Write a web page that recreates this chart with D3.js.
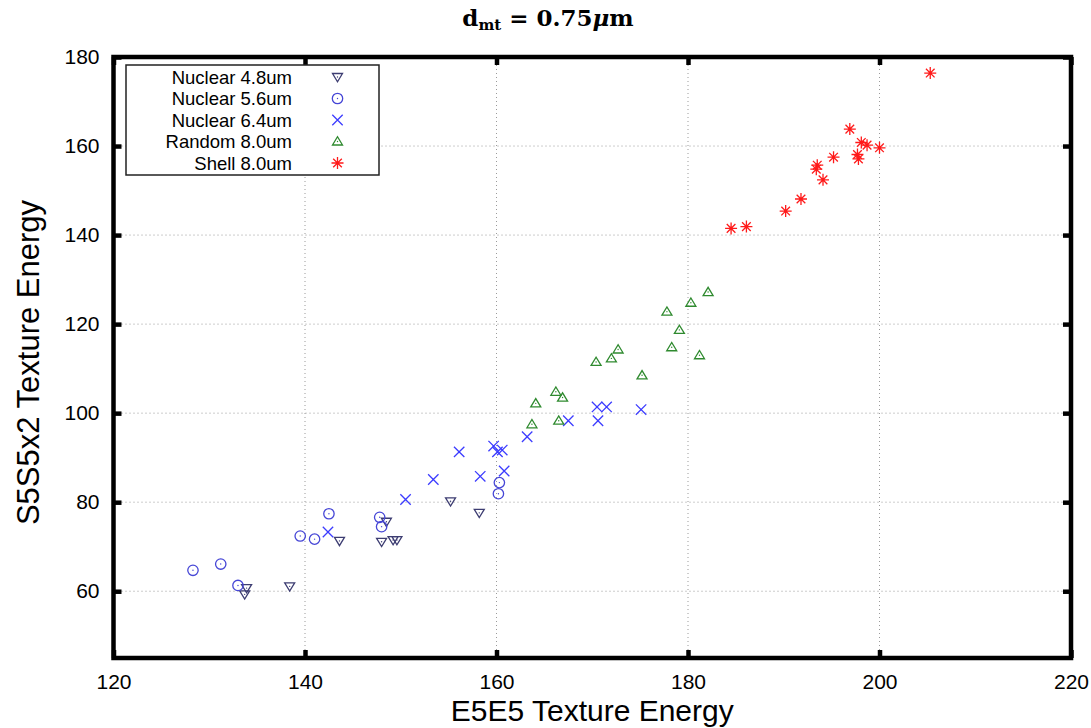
<!DOCTYPE html>
<html>
<head>
<meta charset="utf-8">
<script src="https://cdn.jsdelivr.net/npm/d3@7"></script>
<style>
body{margin:0;background:#fff;}
svg text{font-family:"Liberation Sans",Arial,Helvetica,sans-serif;fill:#000;}
</style>
</head>
<body>
<svg id="chart" width="1091" height="728"></svg>
<script>
var xTicks = [120,140,160,180,200,220];
var yTicks = [60,80,100,120,140,160,180];
var xTitle = 'E5E5 Texture Energy';
var yTitle = 'S5S5x2 Texture Energy';
var legendNames = ['Nuclear 4.8um','Nuclear 5.6um','Nuclear 6.4um','Random 8.0um','Shell 8.0um'];

var nuclear48 = [[133.9,60.7],[133.7,59.3],[138.4,61.1],[143.6,71.3],[148.0,71.1],[148.5,75.6],
    [149.2,71.5],[149.6,71.5],[155.2,80.2],[158.2,77.6]];
var nuclear56 = [[128.3,64.7],[131.2,66.1],[133.0,61.3],[139.5,72.4],[141.0,71.7],[142.5,77.4],
    [147.8,76.6],[148.0,74.5],[160.3,84.4],[160.2,81.9]];
var nuclear64 = [[142.4,73.3],[150.5,80.6],[153.4,85.1],[156.1,91.3],[158.3,85.8],[159.7,92.6],
    [160.1,91.3],[160.6,91.7],[160.8,87.0],[163.2,94.7],[167.5,98.3],[170.6,98.3],[170.5,101.4],
    [171.5,101.4],[175.1,100.8]];
var random80 = [[163.7,97.5],[164.1,102.2],[166.2,104.8],[166.9,103.5],[166.5,98.3],[170.4,111.5],
    [172.0,112.3],[172.7,114.3],[175.2,108.5],[177.8,122.8],[179.1,118.7],[178.3,114.8],
    [181.2,113.0],[180.3,124.8],[182.1,127.2]];
var shell80 = [[184.5,141.5],[186.1,141.9],[190.2,145.4],[191.8,148.1],[193.5,155.7],[193.4,154.8],
    [194.1,152.4],[195.2,157.5],[196.9,163.8],[198.1,160.8],[198.7,160.2],[197.7,158.1],
    [197.8,157.1],[200.0,159.6],[205.3,176.4]];

(function () {
    var svg = d3.select('#chart');
    var left = 113.5, right = 1071, top = 57, bottom = 658;

    var x = d3.scaleLinear().domain([120,220]).range([left,right]);
    var y = d3.scaleLinear().domain([45,180]).range([bottom,top]);

    // marker shapes, gnuplot style
    var shapes = {
        downTri: function (s) { return 'M' + (-s) + ',' + (-s*0.7) + 'L' + s + ',' + (-s*0.7) + 'L0,' + (s*0.95) + 'Z'; },
        upTri: function (s) { return 'M' + (-s) + ',' + (s*0.7) + 'L' + s + ',' + (s*0.7) + 'L0,' + (-s*0.95) + 'Z'; },
        circle: function (s) { return d3.arc()({innerRadius:0,outerRadius:s,startAngle:0,endAngle:2*Math.PI}); },
        cross: function (s) { return 'M' + (-s) + ',' + (-s) + 'L' + s + ',' + s + 'M' + (-s) + ',' + s + 'L' + s + ',' + (-s); },
        star: function (s) {
            var d = s*0.72;
            return 'M' + (-s) + ',0L' + s + ',0M0,' + (-s) + 'L0,' + s +
                'M' + (-d) + ',' + (-d) + 'L' + d + ',' + d + 'M' + (-d) + ',' + d + 'L' + d + ',' + (-d);
        }
    };

    var series = [
        {name:legendNames[0], data:nuclear48, shape:'downTri', size:5, color:'#3d3d72'},
        {name:legendNames[1], data:nuclear56, shape:'circle', size:5.2, color:'#4646d6'},
        {name:legendNames[2], data:nuclear64, shape:'cross', size:5.2, color:'#3c3cff'},
        {name:legendNames[3], data:random80, shape:'upTri', size:5, color:'#2f8a2f'},
        {name:legendNames[4], data:shell80, shape:'star', size:6, color:'#ff1a1a'}
    ];

    // grid
    var grid = svg.append('g').attr('class','grid')
        .attr('stroke','#9a9a9a').attr('stroke-width',1).attr('stroke-dasharray','1,3');
    grid.selectAll('line.gx').data(xTicks.slice(1,-1)).enter().append('line')
        .attr('x1',function (d) { return x(d); }).attr('x2',function (d) { return x(d); })
        .attr('y1',top).attr('y2',bottom);
    grid.selectAll('line.gy').data(yTicks.slice(0,-1)).enter().append('line')
        .attr('x1',left).attr('x2',right)
        .attr('y1',function (d) { return y(d); }).attr('y2',function (d) { return y(d); });

    // axes with inward ticks on all four sides
    var styleAxis = function (g) {
        g.select('.domain').remove();
        g.selectAll('.tick line').attr('stroke','#000').attr('stroke-width',4.5);
        g.selectAll('.tick text').attr('font-size',21).attr('fill','#000')
            .attr('font-family','"Liberation Sans",Arial,Helvetica,sans-serif');
    };
    svg.append('g').attr('transform','translate(0,' + bottom + ')')
        .call(d3.axisBottom(x).tickValues(xTicks).tickSize(-8).tickPadding(16))
        .call(styleAxis);
    svg.append('g').attr('transform','translate(0,' + top + ')')
        .call(d3.axisTop(x).tickValues(xTicks).tickSize(-8).tickFormat(''))
        .call(styleAxis);
    svg.append('g').attr('transform','translate(' + left + ',0)')
        .call(d3.axisLeft(y).tickValues(yTicks).tickSize(-8).tickPadding(14))
        .call(styleAxis);
    svg.append('g').attr('transform','translate(' + right + ',0)')
        .call(d3.axisRight(y).tickValues(yTicks).tickSize(-8).tickFormat(''))
        .call(styleAxis);

    svg.append('rect').attr('x',left).attr('y',top)
        .attr('width',right - left).attr('height',bottom - top)
        .attr('fill','none').attr('stroke','#000').attr('stroke-width',4.5);

    // points
    series.forEach(function (s) {
        var g = svg.append('g').attr('class','series');
        var pts = g.selectAll('g.pt').data(s.data).enter().append('g')
            .attr('transform',function (d) { return 'translate(' + x(d[0]) + ',' + y(d[1]) + ')'; });
        pts.append('path').attr('d',shapes[s.shape](s.size))
            .attr('fill','none').attr('stroke',s.color).attr('stroke-width',1.3);
        pts.append('circle').attr('r',0.7).attr('fill',s.color);
    });

    // legend
    var legend = svg.append('g').attr('class','legend');
    legend.append('rect').attr('x',126).attr('y',65).attr('width',253).attr('height',110)
        .attr('fill','#fff').attr('stroke','#222').attr('stroke-width',1.5);
    var rows = legend.selectAll('g.row').data(series).enter().append('g')
        .attr('transform',function (d,i) { return 'translate(0,' + (77 + i*21.5) + ')'; });
    rows.append('text').attr('x',292).attr('y',6.5).attr('text-anchor','end')
        .attr('font-size',18.5).text(function (d) { return d.name; });
    rows.append('path').attr('transform','translate(337.5,0)')
        .attr('d',function (d) { return shapes[d.shape](d.size); })
        .attr('fill','none').attr('stroke',function (d) { return d.color; }).attr('stroke-width',1.3);
    rows.append('circle').attr('cx',337.5).attr('r',0.7).attr('fill',function (d) { return d.color; });

    // titles
    var t = svg.append('text').attr('x',548).attr('y',26).attr('text-anchor','middle')
        .attr('font-size',23).attr('font-weight','bold')
        .style('font-family','"DejaVu Serif","Liberation Serif",serif');
    t.append('tspan').text('d');
    t.append('tspan').attr('font-size',15).attr('dy',4).text('mt');
    t.append('tspan').attr('dy',-4).text(' = 0.75');
    t.append('tspan').attr('font-style','italic').text('\u03bc');
    t.append('tspan').text('m');

    svg.append('text').attr('x',(left + right)/2).attr('y',721).attr('text-anchor','middle')
        .attr('font-size',30).text(xTitle);
    svg.append('text').attr('transform','translate(39,' + ((top + bottom)/2 + 5) + ') rotate(-90)')
        .attr('text-anchor','middle').attr('font-size',31).text(yTitle);
})();
</script>
</body>
</html>
